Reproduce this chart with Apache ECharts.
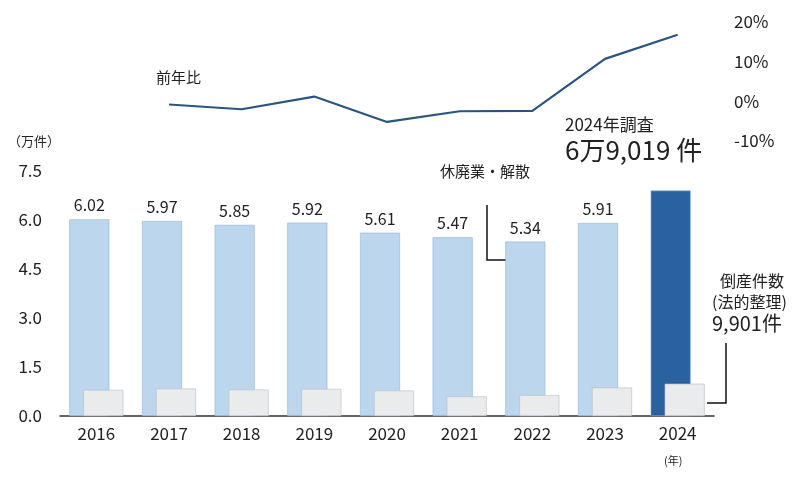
<!DOCTYPE html>
<html><head><meta charset="utf-8">
<script src="https://cdn.jsdelivr.net/npm/echarts@6/dist/echarts.min.js"></script>
<style>html,body{margin:0;background:#fff}#c{width:800px;height:479px}</style>
</head><body><div id="c"></div>
<script>
var years = ['2016','2017','2018','2019','2020','2021','2022','2023','2024'];
var closures = [6.02, 5.97, 5.85, 5.92, 5.61, 5.47, 5.34, 5.91, 6.9019];
var bankrupt = [0.80, 0.84, 0.81, 0.83, 0.78, 0.60, 0.64, 0.87, 0.99];
var yoy = [null, -0.8, -2.0, 1.2, -5.2, -2.5, -2.4, 10.7, 16.8];
var leftTicks = ['0.0','1.5','3.0','4.5','6.0','7.5'];

var font = '"Noto Sans CJK JP", sans-serif';
var txt = '#222';
var chart = echarts.init(document.getElementById('c'));
var option = {
  textStyle: {fontFamily: font},
  grid: [
    {left: 60, right: 86, top: 171, bottom: 63},
    {left: 60, right: 86, top: 22, bottom: 338}
  ],
  xAxis: [
    {type: 'category', gridIndex: 0, data: years,
     axisLine: {lineStyle: {color: '#333', width: 1.5}}, axisTick: {show: false},
     axisLabel: {color: txt, fontSize: 17, margin: 9}},
    {type: 'category', gridIndex: 1, data: years, show: false}
  ],
  yAxis: [
    {type: 'value', gridIndex: 0, min: 0, max: 7.5, interval: 1.5,
     axisLabel: {color: txt, fontSize: 17, margin: 18, formatter: function (v) { return v.toFixed(1); }},
     splitLine: {show: false}, axisLine: {show: false}, axisTick: {show: false}},
    {type: 'value', gridIndex: 1, min: -10, max: 20, interval: 10, position: 'right',
     axisLabel: {color: txt, fontSize: 17, margin: 20, formatter: '{value}%'},
     splitLine: {show: false}, axisLine: {show: false}, axisTick: {show: false}}
  ],
  series: [
    {type: 'bar', xAxisIndex: 0, yAxisIndex: 0, barWidth: 40, barGap: '-65%',
     data: closures.map(function (v, i) {
       return i === closures.length - 1
         ? {value: v, itemStyle: {color: '#2a62a0'}, label: {show: false}}
         : v;
     }),
     itemStyle: {color: '#bcd6ee', borderColor: '#8fb3d6', borderWidth: 0.6},
     label: {show: true, position: 'top', color: txt, fontSize: 16, distance: 6,
             formatter: function (p) { return p.value.toFixed(2); }}},
    {type: 'bar', xAxisIndex: 0, yAxisIndex: 0, barWidth: 40, data: bankrupt,
     itemStyle: {color: '#e9ebed', borderColor: '#b8bcc0', borderWidth: 0.6}},
    {type: 'line', xAxisIndex: 1, yAxisIndex: 1, data: yoy, symbol: 'none',
     lineStyle: {color: '#2b557f', width: 2.2}}
  ],
  graphic: [
    {type: 'text', left: 8, top: 135, style: {text: '（万件）', fill: txt, font: '13px ' + font}},
    {type: 'text', left: 156, top: 70, style: {text: '前年比', fill: txt, font: '15px ' + font}},
    {type: 'text', left: 664, top: 455, style: {text: '(年)', fill: txt, font: '11px ' + font}},
    {type: 'text', left: 565, top: 116, style: {text: '2024年調査', fill: txt, font: '17px ' + font}},
    {type: 'text', left: 565, top: 137, style: {text: '6万9,019 件', fill: txt, font: '26px ' + font}},
    {type: 'text', left: 440, top: 164, style: {text: '休廃業・解散', fill: txt, font: '15px ' + font}},
    {type: 'polyline', shape: {points: [[487, 205], [487, 260], [506, 260]]}, style: {stroke: '#111', lineWidth: 1.5, fill: null}},
    {type: 'text', left: 720, top: 273, style: {text: '倒産件数', fill: txt, font: '16px ' + font}},
    {type: 'text', left: 712, top: 294, style: {text: '(法的整理)', fill: txt, font: '16px ' + font}},
    {type: 'text', left: 712, top: 313, style: {text: '9,901件', fill: txt, font: '20px ' + font}},
    {type: 'polyline', shape: {points: [[707, 403], [726, 403], [726, 343]]}, style: {stroke: '#111', lineWidth: 1.5, fill: null}}
  ]
};
chart.setOption(option);
</script></body></html>
